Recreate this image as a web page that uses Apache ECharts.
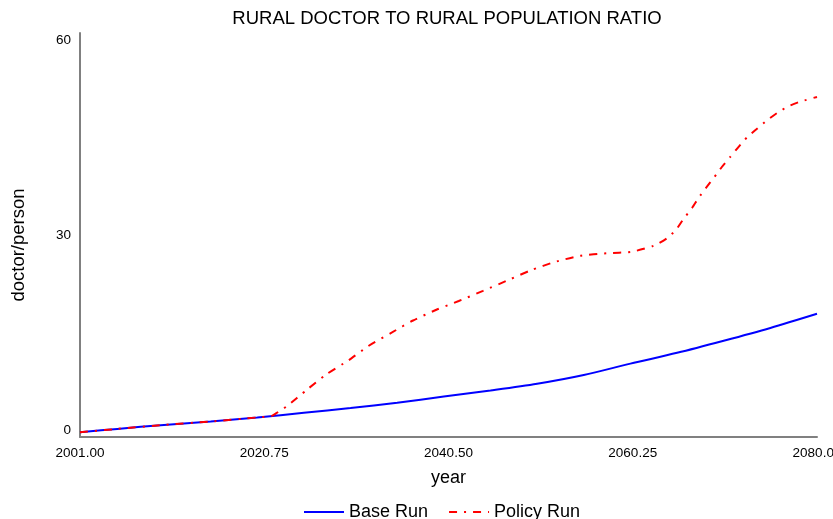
<!DOCTYPE html>
<html>
<head>
<meta charset="utf-8">
<script src="https://cdn.jsdelivr.net/npm/echarts@6/dist/echarts.min.js"></script>
<style>
  html, body { margin: 0; padding: 0; background: #ffffff; }
  #chart { width: 833px; height: 519px; }
</style>
</head>
<body>
<div id="chart"></div>
<script>
// Rural doctor to rural population ratio, two simulation runs
const baseYears = [2001, 2005, 2010, 2015, 2020, 2025, 2030, 2035, 2040, 2045, 2050, 2055, 2060, 2065, 2070, 2075, 2080];
const baseValues = [0.7, 1.2, 1.8, 2.3, 2.9, 3.6, 4.3, 5.1, 6.0, 6.9, 7.9, 9.2, 10.9, 12.5, 14.3, 16.2, 18.3];

const policyYears = [2001, 2005, 2010, 2015, 2020, 2021.5, 2022, 2023.2, 2025.3, 2027.4, 2029.8, 2031.9, 2034.4, 2036.7, 2039.2, 2041.6, 2044.2, 2046.9, 2049.4, 2051.9, 2054.6, 2057.5, 2060.1, 2062.5, 2063.9, 2064.9, 2065.7, 2066.6, 2067.3, 2068.1, 2069.0, 2069.8, 2070.7, 2071.6, 2072.5, 2073.5, 2074.6, 2075.7, 2076.9, 2078.2, 2080];
const policyValues = [0.7, 1.2, 1.8, 2.3, 2.9, 3.1, 3.5, 4.6, 7.0, 9.3, 11.4, 13.5, 15.5, 17.3, 18.9, 20.2, 21.7, 23.3, 24.8, 26.0, 26.9, 27.3, 27.5, 28.4, 29.5, 30.8, 32.4, 34.0, 35.5, 37.0, 38.6, 40.1, 41.6, 43.1, 44.5, 45.7, 47.0, 48.1, 49.1, 49.8, 50.5];

const xTicks = [2001, 2020.75, 2040.5, 2060.25, 2080];
const yTicks = [0, 30, 60];

const pairs = (xs, ys) => xs.map((x, i) => [x, ys[i]]);

const chart = echarts.init(document.getElementById('chart'), null, { renderer: 'canvas' });
const font = '"Liberation Sans", Arial, sans-serif';

chart.setOption({
  animation: false,
  backgroundColor: '#ffffff',
  textStyle: { fontFamily: font },
  title: {
    text: 'RURAL DOCTOR TO RURAL POPULATION RATIO',
    left: 442,
    textAlign: 'center',
    top: 4,
    textStyle: { fontFamily: font, fontSize: 18.5, fontWeight: 'normal', color: '#000000' }
  },
  grid: { left: 80, right: 16, top: 33, bottom: 82, containLabel: false, outerBoundsMode: 'none' },
  legend: {
    left: 298,
    top: 498,
    itemWidth: 40,
    itemHeight: 14,
    itemGap: 20,
    itemStyle: { opacity: 0 },
    textStyle: { fontFamily: font, fontSize: 18, color: '#000000' },
    data: ['Base Run', 'Policy Run']
  },
  xAxis: {
    type: 'value',
    min: 2001,
    max: 2080,
    name: 'year',
    nameLocation: 'middle',
    nameGap: 32,
    nameTextStyle: { fontFamily: font, fontSize: 18, color: '#000000' },
    axisLine: { show: true, onZero: false, lineStyle: { color: '#808080', width: 2 } },
    axisTick: { show: false },
    splitLine: { show: false },
    axisLabel: {
      customValues: xTicks,
      formatter: v => v.toFixed(2),
      fontFamily: font,
      fontSize: 13.5,
      color: '#000000',
      margin: 9
    }
  },
  yAxis: {
    type: 'value',
    min: 0,
    max: 60,
    interval: 30,
    name: 'doctor/person',
    nameLocation: 'middle',
    nameGap: 52,
    nameTextStyle: { fontFamily: font, fontSize: 18.5, color: '#000000', padding: [0, 20, 0, 0] },
    axisLine: { show: true, lineStyle: { color: '#808080', width: 2 } },
    axisTick: { show: false },
    splitLine: { show: false },
    axisLabel: {
      customValues: yTicks,
      fontFamily: font,
      fontSize: 13.5,
      color: '#000000',
      margin: 9,
      verticalAlignMinLabel: 'bottom',
      verticalAlignMaxLabel: 'top'
    }
  },
  series: [
    {
      name: 'Base Run',
      type: 'line',
      data: pairs(baseYears, baseValues),
      symbol: 'none',
      smooth: 0.3,
      color: '#0000ff',
      lineStyle: { color: '#0000ff', width: 2 },
      z: 3
    },
    {
      name: 'Policy Run',
      type: 'line',
      data: pairs(policyYears, policyValues),
      symbol: 'none',
      smooth: 0.2,
      color: '#ff0000',
      lineStyle: { color: '#ff0000', width: 2, type: [8, 7, 2, 7] },
      z: 4
    }
  ]
});
</script>
</body>
</html>
